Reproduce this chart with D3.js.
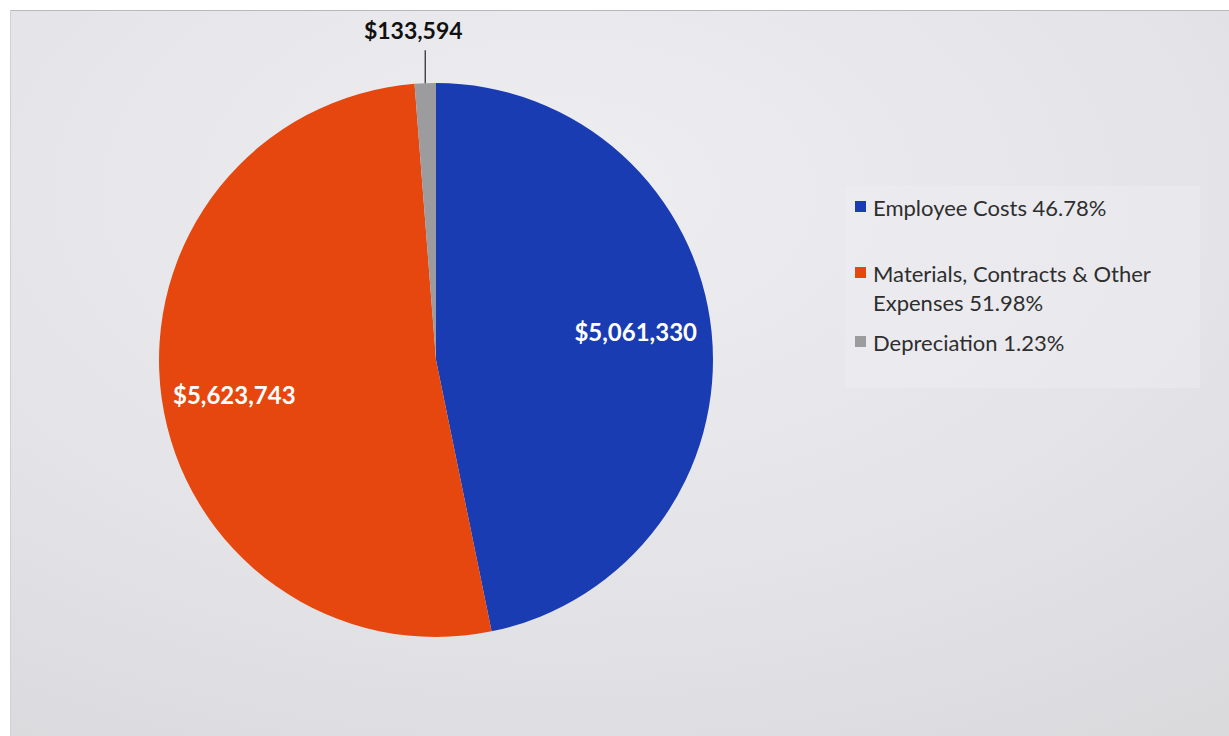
<!DOCTYPE html>
<html>
<head>
<meta charset="utf-8">
<script src="https://cdn.jsdelivr.net/npm/d3@7"></script>
<style>
  html, body { margin: 0; padding: 0; background: #ffffff; }
  svg { display: block; }
</style>
</head>
<body>
<svg id="chart" width="1229" height="736"></svg>
<script>
// Expense breakdown
const categories = ["Employee Costs", "Materials, Contracts & Other Expenses", "Depreciation"];
const values = [5061330, 5623743, 133594];
const percentLabels = ["46.78%", "51.98%", "1.23%"];
const legendLines = [["Employee Costs 46.78%"], ["Materials, Contracts & Other", "Expenses 51.98%"], ["Depreciation 1.23%"]];
const colors = ["#1a3cb2", "#e6470f", "#9c9c9e"];

const svg = d3.select("#chart");
const W = 1229, H = 736;

// panel background
const defs = svg.append("defs");
const grad = defs.append("radialGradient").attr("id", "bg")
  .attr("cx", "45%").attr("cy", "25%").attr("r", "90%");
grad.append("stop").attr("offset", "0%").attr("stop-color", "#eeeef1");
grad.append("stop").attr("offset", "60%").attr("stop-color", "#e4e4e8");
grad.append("stop").attr("offset", "100%").attr("stop-color", "#dadadd");

svg.append("rect").attr("x", 10).attr("y", 10).attr("width", W - 10).attr("height", H - 10)
  .attr("fill", "url(#bg)");
svg.append("line").attr("x1", 10).attr("x2", W).attr("y1", 10.5).attr("y2", 10.5)
  .attr("stroke", "#b8b8bc").attr("stroke-width", 1);
svg.append("line").attr("x1", 10.5).attr("x2", 10.5).attr("y1", 10).attr("y2", H)
  .attr("stroke", "#d0d0d4").attr("stroke-width", 1);

// legend panel
svg.append("rect").attr("x", 845).attr("y", 186).attr("width", 355).attr("height", 202)
  .attr("fill", "#f2f2f5").attr("opacity", 0.35);

const cx = 436, cy = 360, r = 277;
const pie = d3.pie().sort(null).value(d => d);
const arcs = pie(values);
const arc = d3.arc().innerRadius(0).outerRadius(r);

const g = svg.append("g").attr("transform", `translate(${cx},${cy})`);
g.selectAll("path").data(arcs).enter().append("path")
  .attr("d", arc)
  .attr("fill", (d, i) => colors[i]);

const fmt = d3.format("$,");
const labelFont = "Lato, 'Open Sans', sans-serif";

// inside labels for the two large slices
const labelArc = d3.arc().innerRadius(r * 0.75).outerRadius(r * 0.75);
const labelShift = [[-7, -8], [4, 6]];
[0, 1].forEach(i => {
  const a = arcs[i];
  const c = labelArc.centroid(a);
  g.append("text")
    .attr("x", c[0] + labelShift[i][0]).attr("y", c[1] + labelShift[i][1])
    .attr("text-anchor", "middle").attr("dominant-baseline", "central")
    .attr("fill", "#ffffff").attr("font-family", labelFont)
    .attr("font-weight", "bold").attr("font-size", 24)
    .text(fmt(values[i]));
});

// outside label with leader for the small slice
{
  const a = arcs[2];
  const mid = (a.startAngle + a.endAngle) / 2;
  const px = Math.sin(mid) * r, py = -Math.cos(mid) * r;
  g.append("line").attr("x1", px).attr("x2", px).attr("y1", py).attr("y2", py - 33)
    .attr("stroke", "#333").attr("stroke-width", 1.3);
  g.append("text")
    .attr("x", px - 12).attr("y", py - 44)
    .attr("text-anchor", "middle")
    .attr("fill", "#111").attr("font-family", labelFont)
    .attr("font-weight", "bold").attr("font-size", 23)
    .text(fmt(values[2]));
}

// legend
const legendY = [207, 273, 342];
legendLines.forEach((lines, i) => {
  const y = legendY[i];
  svg.append("rect").attr("x", 855).attr("y", y - 6).attr("width", 11).attr("height", 11)
    .attr("fill", colors[i]);
  const t = svg.append("text").attr("x", 873).attr("y", y)
    .attr("dominant-baseline", "central")
    .attr("fill", "#2e2e2e").attr("font-family", labelFont).attr("font-size", 22);
  lines.forEach((ln, j) => {
    t.append("tspan").attr("x", 873).attr("dy", j === 0 ? 0 : 29).text(ln);
  });
});
</script>
</body>
</html>
